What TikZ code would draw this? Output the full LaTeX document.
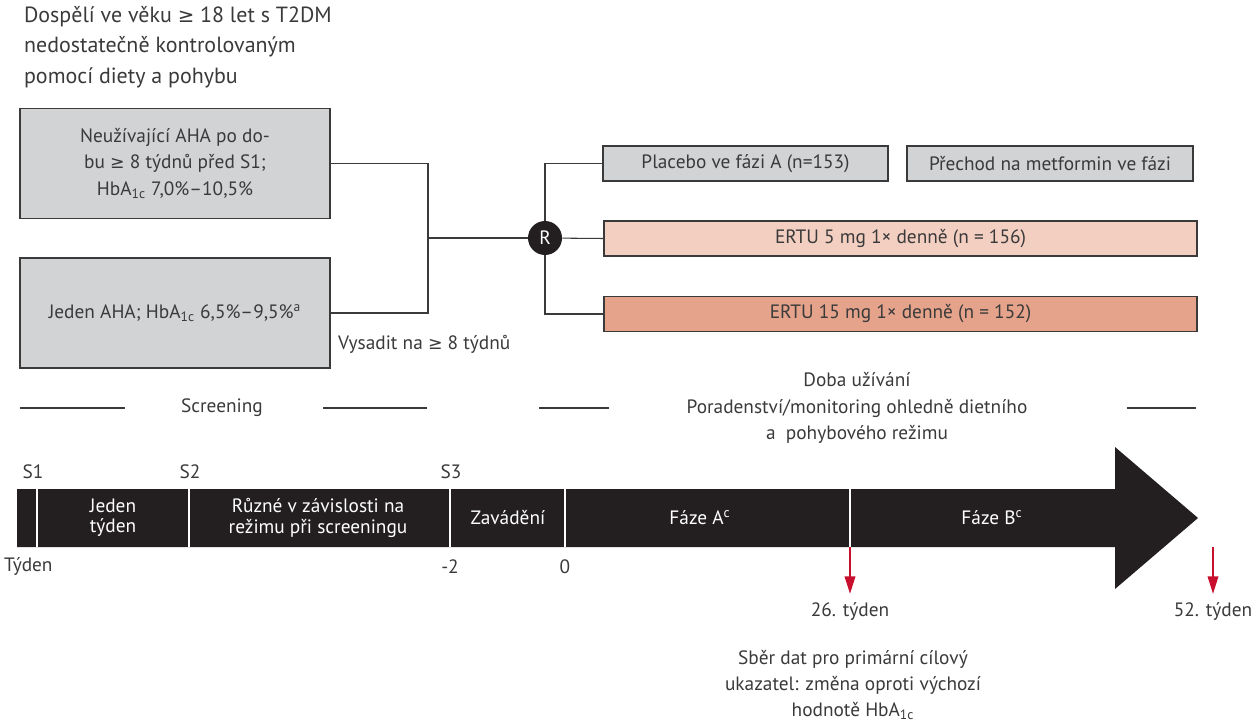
\documentclass[tikz,border=0pt]{standalone}
\usepackage{fontspec}
\setmainfont{PT Sans}
\newfontfamily\symfont{DejaVu Sans}
\newcommand{\atleast}{{\symfont\scalebox{0.9}{≥}}}
\usetikzlibrary{positioning,calc,arrows.meta}
\definecolor{txtgray}{HTML}{3A3A3A}
\definecolor{boxgray}{HTML}{D2D3D5}
\definecolor{ertulight}{HTML}{F3CFC1}
\definecolor{ertudark}{HTML}{E5A38B}
\definecolor{barblack}{HTML}{231F20}
\definecolor{markred}{HTML}{C8102E}

\begin{document}
\begin{tikzpicture}[x=0.02cm, y=-0.02cm, text=txtgray, font=\fontsize{11}{15}\selectfont]
	\useasboundingbox (0,0) rectangle (1256,726);
	\tikzstyle{every node}=[align=center, inner sep=1pt]
	\tikzstyle{grp}=[draw=txtgray, line width=0.8pt, fill=boxgray, minimum width=6.2cm, minimum height=2.2cm]
	\tikzstyle{arm}=[draw=txtgray, line width=0.8pt, minimum height=0.7cm]
	\tikzstyle{intext}=[text=white, font=\fontsize{11}{11.5}\selectfont]
	\tikzstyle{rule}=[draw=txtgray, line width=0.6pt]

	% population and screening groups
	\node[align=left, anchor=north west, font=\fontsize{12.5}{17.5}\selectfont] (pop) at (22,4) {Dospělí ve věku \atleast{} 18 let s T2DM\\nedostatečně kontrolovaným\\pomocí diety a pohybu};
	\node[grp] (naive) at (175,163.5) {Neužívající AHA po do-\\bu \atleast{} 8 týdnů před S1;\\HbA\textsubscript{1c} 7,0\%--10,5\%};
	\node[grp] (single) at (175,313) {Jeden AHA; HbA\textsubscript{1c} 6,5\%--9,5\%\textsuperscript{a}};
	\node[anchor=west] (washout) at (336,344) {Vysadit na \atleast{} 8 týdnů};

	% randomisation
	\coordinate (join) at (428,238);
	\node[circle, fill=barblack, text=white, minimum size=0.68cm, inner sep=0pt] (rand) at (545,238) {R};
	\node[arm, fill=boxgray, minimum width=5.7cm] (placebo) at (745.5,163.5) {Placebo ve fázi A (n=153)};
	\node[arm, fill=boxgray, minimum width=5.72cm] (metf) at (1050,163.5) {Přechod na metformin ve fázi};
	\node[arm, fill=ertulight, minimum width=11.86cm] (ertu5) at (900.5,238.5) {ERTU 5 mg 1× denně (n = 156)};
	\node[arm, fill=ertudark, minimum width=11.86cm] (ertu15) at (900.5,314) {ERTU 15 mg 1× denně (n = 152)};

	\draw[rule] (naive.east) -| (join);
	\draw[rule] (single.east) -| (join);
	\draw[rule] (join) -- (rand);
	\draw[rule] (rand) |- (placebo.west);
	\draw[rule] (rand) -- (ertu5.west);
	\draw[rule] (rand) |- (ertu15.west);

	% period headings
	\node (scr) at (222,408) {Screening};
	\node (trt) at (857,408) {Doba užívání\\Poradenství/monitoring ohledně dietního\\a~ pohybového režimu};
	\draw[rule] (20,408) -- (125,408);
	\draw[rule] (323,408) -- (427,408);
	\draw[rule] (539,408) -- (609,408);
	\draw[rule] (1127,408) -- (1196,408);

	% timeline
	\fill[barblack] (17,489) -- (1115,489) -- (1115,447) -- (1198,518) -- (1115,589) -- (1115,547) -- (17,547) -- cycle;
	\foreach \x in {37,189,450,565,850}
		\draw[white, line width=1.1pt] (\x,489) -- (\x,547);
	\node (s1) at (33,472) {S1};
	\node (s2) at (190,472) {S2};
	\node (s3) at (451,472) {S3};
	\node[intext] (wk1) at (113,518) {Jeden\\týden};
	\node[intext] (var) at (318,518) {Různé v závislosti na\\režimu při screeningu};
	\node[intext] (runin) at (508,518) {Zavádění};
	\node[intext] (phA) at (700,518) {Fáze A\textsuperscript{c}};
	\node[intext] (phB) at (992,518) {Fáze B\textsuperscript{c}};
	\node[anchor=west] (wk) at (2,567) {Týden};
	\node (wkm2) at (450,567) {-2};
	\node (wk0) at (565,567) {0};

	% end points
	\coordinate (a26) at (850,547);
	\coordinate (a52) at (1213,547);
	\node (w26) at (850,612) {26. týden};
	\node (w52) at (1213,612) {52. týden};
	\draw[markred, line width=1.1pt, -{Triangle[width=6pt, length=10pt]}, shorten >=4pt] (a26) -- (w26.north);
	\draw[markred, line width=1.1pt, -{Triangle[width=6pt, length=10pt]}, shorten >=4pt] (a52) -- (w52.north);
	\node (prim) at (853,685) {Sběr dat pro primární cílový\\ukazatel: změna oproti výchozí\\hodnotě HbA\textsubscript{1c}};
\end{tikzpicture}
\end{document}
